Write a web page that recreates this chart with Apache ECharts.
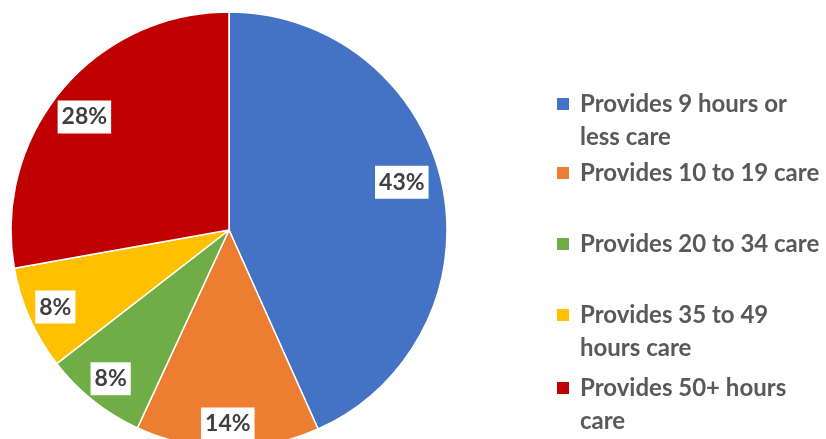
<!DOCTYPE html>
<html><head><meta charset="utf-8">
<script src="https://cdn.jsdelivr.net/npm/echarts@6/dist/echarts.min.js"></script>
<style>html,body{margin:0;padding:0;background:#fff}#c{width:826px;height:439px}</style>
</head><body><div id="c"></div>
<script>
const categories = ['Provides 9 hours or less care','Provides 10 to 19 care','Provides 20 to 34 care','Provides 35 to 49 hours care','Provides 50+ hours care'];
const legendLabels = ['Provides 9 hours or\nless care','Provides 10 to 19 care','Provides 20 to 34 care','Provides 35 to 49\nhours care','Provides 50+ hours\ncare'];
const values = [43.3, 13.6, 7.6, 7.7, 27.8];
const pctLabels = ['43%','14%','8%','8%','28%'];
const colors = ['#4472C4','#ED7D31','#70AD47','#FFC000','#C00000'];
const iconCenters = [104, 173, 244, 315, 388];
const labelShift = [[-13,-8],[0,4],[0,0],[0,0],[1,9]];

const LH = 33;
const chart = echarts.init(document.getElementById('c'), null, {renderer:'canvas'});
const data = categories.map((n,i)=>({name:n, value:values[i], itemStyle:{color:colors[i]}}));
const FONT = 'Lato';
const legends = categories.map((n,i)=>{
  const twoLine = legendLabels[i].indexOf('\n')>=0;
  return {
    orient:'vertical', left:557, top: iconCenters[i] - (twoLine ? 1.5*LH : 0.5*LH), padding:0, itemGap:0,
    itemWidth:12, itemHeight:12, icon:'rect', selectedMode:false,
    data:[{name:n, itemStyle:{borderWidth:0}}],
    formatter:()=> twoLine ? '{s|}\n{a|' + legendLabels[i].split('\n').join('}\n{a|') + '}' : '{a|' + legendLabels[i] + '}',
    textStyle:{fontFamily:FONT, fontWeight:'bold', fontSize:24, color:'#595959', lineHeight:LH,
      rich:{
        a:{fontFamily:FONT, fontWeight:'bold', fontSize:24, color:'#595959', lineHeight:LH, padding:[0,0,0,6]},
        s:{fontSize:24, lineHeight:LH}
      }}
  };
});
chart.setOption({
  animation:false,
  legend: legends,
  series:[
    {type:'pie', center:[229,230], radius:218, startAngle:90, clockwise:true, silent:true,
     label:{show:false}, labelLine:{show:false},
     itemStyle:{borderColor:'#fff', borderWidth:1.5},
     data:data},
    {type:'pie', center:[229,230], radius:[156,218], startAngle:90, clockwise:true, silent:true,
     itemStyle:{color:'rgba(0,0,0,0)', borderWidth:0},
     labelLine:{show:false},
     labelLayout:(p)=>({dx:labelShift[p.dataIndex][0], dy:labelShift[p.dataIndex][1]}),
     label:{show:true, position:'inside', formatter:(p)=>pctLabels[p.dataIndex],
       fontFamily:FONT, fontWeight:'bold', fontSize:23, color:'#404040',
       backgroundColor:'#fff', padding:[5,4,5,4]},
     data:categories.map((n,i)=>({name:n, value:values[i]}))}
  ]
});
</script></body></html>
